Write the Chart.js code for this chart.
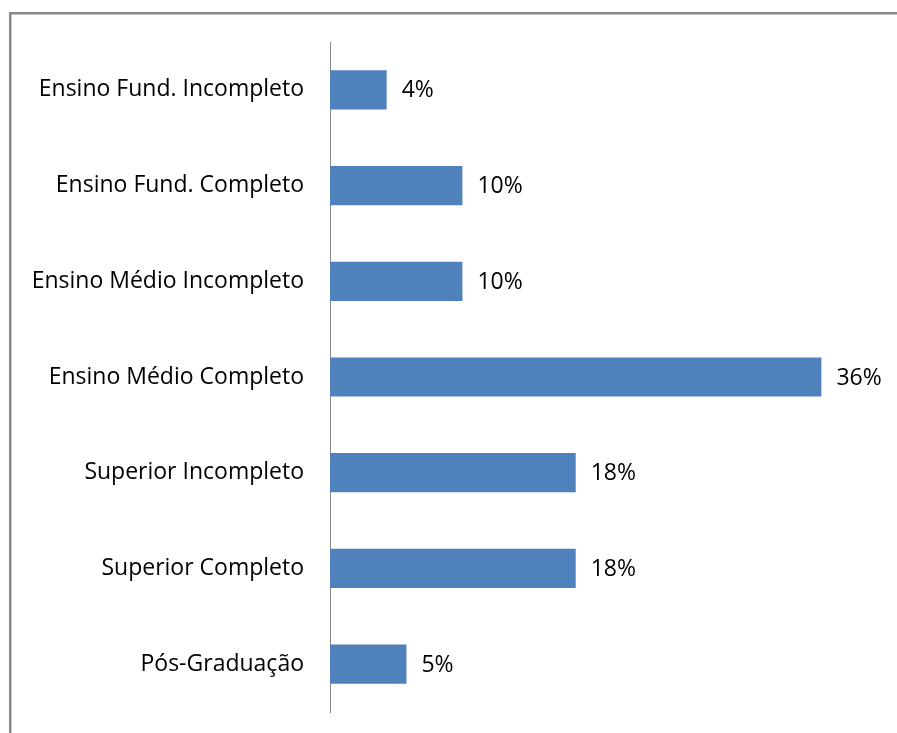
<!DOCTYPE html>
<html>
<head>
<meta charset="utf-8">
<script src="https://cdn.jsdelivr.net/npm/chart.js@4/dist/chart.umd.min.js"></script>
<style>
html,body{margin:0;padding:0;background:#fff;}
#wrap{position:relative;width:897px;height:733px;}
</style>
</head>
<body>
<div id="wrap"><canvas id="c" width="897" height="733"></canvas></div>
<script>
const categories = [
  "Ensino Fund. Incompleto",
  "Ensino Fund. Completo",
  "Ensino Médio Incompleto",
  "Ensino Médio Completo",
  "Superior Incompleto",
  "Superior Completo",
  "Pós-Graduação"
];
const values = [4.15, 9.7, 9.7, 36, 18, 18, 5.6];
const valueLabels = ["4%", "10%", "10%", "36%", "18%", "18%", "5%"];
const axisMin = 0;
const axisMax = 40;

const FONT = "'Open Sans', sans-serif";

const framePlugin = {
  id: 'frame',
  beforeDraw(chart) {
    const ctx = chart.ctx;
    ctx.save();
    ctx.fillStyle = '#fff';
    ctx.fillRect(0, 0, chart.width, chart.height);
    ctx.strokeStyle = '#898989';
    ctx.lineWidth = 2.5;
    ctx.beginPath();
    ctx.moveTo(10.25, 733);
    ctx.lineTo(10.25, 13.25);
    ctx.lineTo(897, 13.25);
    ctx.stroke();
    ctx.restore();
  }
};

const labelPlugin = {
  id: 'valueLabels',
  afterDatasetsDraw(chart) {
    const ctx = chart.ctx;
    const meta = chart.getDatasetMeta(0);
    ctx.save();
    ctx.font = "23px " + FONT;
    ctx.fillStyle = '#000';
    ctx.textAlign = 'left';
    ctx.textBaseline = 'middle';
    meta.data.forEach((bar, i) => {
      ctx.fillText(valueLabels[i], bar.x + 15, bar.y + 1);
    });
    ctx.restore();
  }
};

new Chart(document.getElementById('c'), {
  type: 'bar',
  data: {
    labels: categories,
    datasets: [{
      data: values,
      backgroundColor: '#4F81BD',
      borderWidth: 0,
      barPercentage: 0.41,
      categoryPercentage: 1.0
    }]
  },
  options: {
    indexAxis: 'y',
    responsive: false,
    animation: false,
    layout: { padding: { top: 42, bottom: 21, right: 21, left: 0 } },
    plugins: { legend: { display: false }, tooltip: { enabled: false } },
    scales: {
      x: {
        display: false,
        min: axisMin,
        max: axisMax
      },
      y: {
        grid: { display: false, drawTicks: false },
        border: { display: true, color: '#888', width: 1 },
        ticks: {
          color: '#000',
          padding: 26,
          font: { family: FONT, size: 23 }
        },
        afterFit(scale) {
          scale.width = 330;
          scale.paddingTop = 0;
          scale.paddingBottom = 0;
        }
      }
    }
  },
  plugins: [framePlugin, labelPlugin]
});
</script>
</body>
</html>
